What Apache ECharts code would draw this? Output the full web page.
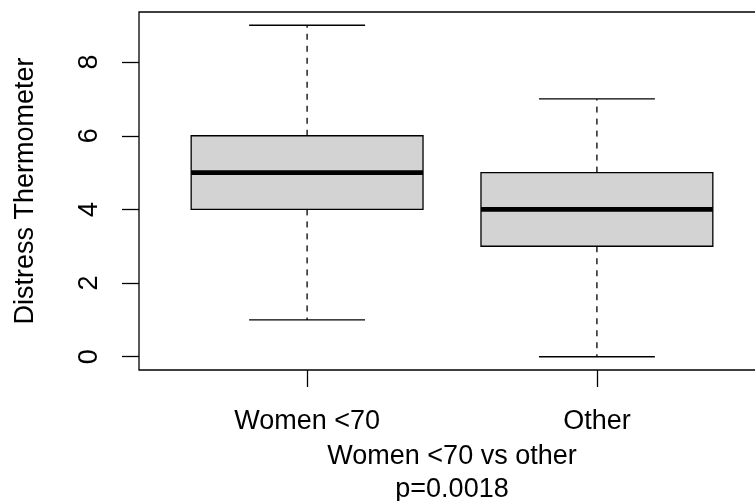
<!DOCTYPE html>
<html>
<head>
<meta charset="utf-8">
<script src="https://cdn.jsdelivr.net/npm/echarts@6/dist/echarts.min.js"></script>
<style>
  html, body { margin: 0; padding: 0; background: #fff; }
  #chart { width: 755px; height: 501px; }
</style>
</head>
<body>
<div id="chart"></div>
<script>
// Group labels and five-number summaries (min, Q1, median, Q3, max)
const categories = ['Women <70', 'Other'];
const minValues = [1, 0];
const q1Values = [4, 3];
const medianValues = [5, 4];
const q3Values = [6, 5];
const maxValues = [9, 7];
const yTicks = [0, 2, 4, 6, 8];
const yTitle = 'Distress Thermometer';
const xTitle = 'Women <70 vs other\np=0.0018';

const FONT = '"Liberation Sans", Arial, sans-serif';
const boxData = categories.map((c, i) => [i + 1, minValues[i], q1Values[i], medianValues[i], q3Values[i], maxValues[i]]);

const chart = echarts.init(document.getElementById('chart'), null, { renderer: 'canvas' });

function renderBox(params, api) {
  const x = api.value(0);
  const pMin = api.coord([x, api.value(1)]);
  const pQ1 = api.coord([x, api.value(2)]);
  const pMed = api.coord([x, api.value(3)]);
  const pQ3 = api.coord([x, api.value(4)]);
  const pMax = api.coord([x, api.value(5)]);
  const halfBox = (api.coord([x + 0.4, 0])[0] - api.coord([x, 0])[0]);
  const halfStaple = halfBox / 2;
  const cx = pMed[0];
  const line = { stroke: '#000', lineWidth: 1.3 };
  const dashed = { stroke: '#000', lineWidth: 1.3, lineDash: [6, 6] };
  return {
    type: 'group',
    children: [
      { type: 'line', shape: { x1: cx, y1: pQ3[1], x2: cx, y2: pMax[1] }, style: dashed },
      { type: 'line', shape: { x1: cx, y1: pQ1[1], x2: cx, y2: pMin[1] }, style: dashed },
      { type: 'line', shape: { x1: cx - halfStaple, y1: pMax[1], x2: cx + halfStaple, y2: pMax[1] }, style: line },
      { type: 'line', shape: { x1: cx - halfStaple, y1: pMin[1], x2: cx + halfStaple, y2: pMin[1] }, style: line },
      { type: 'rect', shape: { x: cx - halfBox, y: pQ3[1], width: 2 * halfBox, height: pQ1[1] - pQ3[1] },
        style: { fill: '#d3d3d3', stroke: '#000', lineWidth: 1.3 } },
      { type: 'line', shape: { x1: cx - halfBox, y1: pMed[1], x2: cx + halfBox, y2: pMed[1] },
        style: { stroke: '#000', lineWidth: 4.8 } }
    ]
  };
}

chart.setOption({
  animation: false,
  backgroundColor: '#fff',
  grid: {
    left: 139, top: 12, width: 626, height: 358,
    containLabel: false, outerBoundsMode: 'none',
    show: true, borderColor: '#000', borderWidth: 1.3, backgroundColor: 'transparent'
  },
  xAxis: {
    type: 'value', min: 0.42, max: 2.58,
    axisLine: { show: false, onZero: false },
    splitLine: { show: false },
    axisTick: { show: true, length: 17, customValues: [1, 2], lineStyle: { color: '#000', width: 1.3 } },
    axisLabel: {
      show: true, customValues: [1, 2], margin: 38,
      color: '#000', fontSize: 27, fontFamily: FONT,
      formatter: v => categories[Math.round(v) - 1]
    },
    name: xTitle, nameLocation: 'middle', nameGap: 68,
    nameTextStyle: { color: '#000', fontSize: 27, fontFamily: FONT, lineHeight: 33 }
  },
  yAxis: {
    type: 'value', min: -0.36, max: 9.36,
    axisLine: { show: false, onZero: false },
    splitLine: { show: false },
    axisTick: { show: true, length: 17, customValues: yTicks, lineStyle: { color: '#000', width: 1.3 } },
    axisLabel: {
      show: true, customValues: yTicks, rotate: 90, margin: 36,
      color: '#000', fontSize: 27, fontFamily: FONT
    },
    name: yTitle, nameLocation: 'middle', nameRotate: 90, nameGap: 100,
    nameTextStyle: { color: '#000', fontSize: 27, fontFamily: FONT }
  },
  series: [{
    type: 'custom',
    renderItem: renderBox,
    encode: { x: 0, y: [1, 2, 3, 4, 5] },
    data: boxData,
    clip: false
  }]
});
</script>
</body>
</html>
